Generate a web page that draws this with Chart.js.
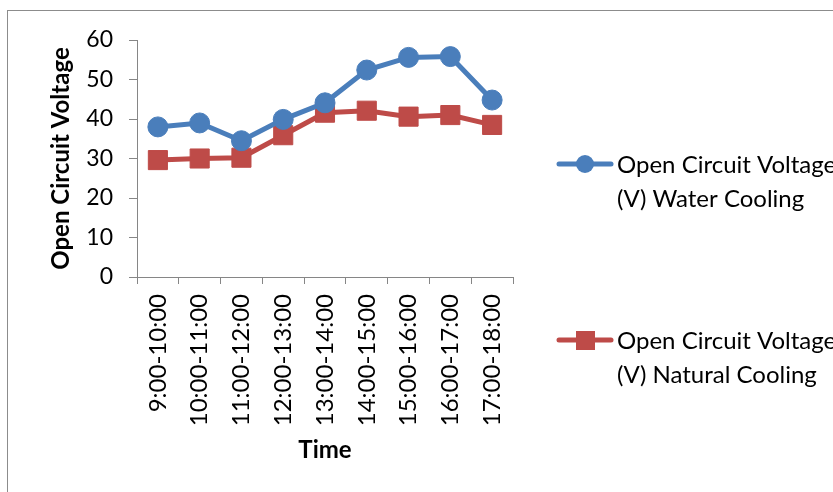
<!DOCTYPE html>
<html>
<head>
<meta charset="utf-8">
<script src="https://cdn.jsdelivr.net/npm/chart.js@4.4.0/dist/chart.umd.min.js"></script>
<style>
  html, body { margin: 0; padding: 0; background: #fff; overflow: hidden; }
  #wrap { position: relative; width: 833px; height: 492px; }
  #frame { position: absolute; left: 7px; top: 10px; width: 840px; height: 500px;
           border: 1px solid #8c8c8c; box-sizing: border-box; }
  canvas { position: absolute; left: 0; top: 0; }
</style>
</head>
<body>
<div id="wrap">
  <div id="frame"></div>
  <canvas id="c" width="833" height="492"></canvas>
</div>
<script>
// Hourly open circuit voltage readings
const timeSlots = ['9:00-10:00', '10:00-11:00', '11:00-12:00', '12:00-13:00', '13:00-14:00',
                   '14:00-15:00', '15:00-16:00', '16:00-17:00', '17:00-18:00'];
const waterCooling = [38.0, 39.0, 34.5, 39.9, 44.1, 52.4, 55.6, 55.8, 44.8];
const naturalCooling = [29.6, 30.0, 30.2, 35.9, 41.6, 42.1, 40.6, 41.0, 38.5];
const seriesNames = [
  ['Open Circuit Voltage', '(V) Water Cooling'],
  ['Open Circuit Voltage', '(V) Natural Cooling']
];
const yTicks = [0, 10, 20, 30, 40, 50, 60];

const FONT = 'Lato, "Open Sans", sans-serif';
const FS = 24;
const BLUE = '#4a7ebb';
const RED = '#be4b48';
const AXIS = '#868686';

// Legend drawn at the right, one entry per dataset, with a two-line label
const sideLegend = {
  id: 'sideLegend',
  afterDraw(chart) {
    const ctx = chart.ctx;
    const rows = [164, 340];
    ctx.save();
    chart.data.datasets.forEach((ds, i) => {
      const y = rows[i];
      ctx.strokeStyle = ds.borderColor;
      ctx.lineWidth = 5;
      ctx.lineCap = 'round';
      ctx.beginPath();
      ctx.moveTo(559, y);
      ctx.lineTo(611, y);
      ctx.stroke();
      ctx.fillStyle = ds.borderColor;
      if (ds.pointStyle === 'rect') {
        ctx.fillRect(576, y - 9, 19, 19);
      } else {
        ctx.beginPath();
        ctx.arc(585, y, 9, 0, Math.PI * 2);
        ctx.fill();
      }
      ctx.fillStyle = '#000';
      ctx.font = FS + 'px ' + FONT;
      ctx.textBaseline = 'middle';
      ctx.textAlign = 'left';
      seriesNames[i].forEach((line, k) => ctx.fillText(line, 617, y + 1 + k * 34));
    });
    ctx.restore();
  }
};

new Chart(document.getElementById('c'), {
  type: 'line',
  data: {
    labels: timeSlots,
    datasets: [
      {
        label: seriesNames[0].join(' '),
        data: waterCooling,
        borderColor: BLUE,
        backgroundColor: BLUE,
        borderWidth: 5,
        pointStyle: 'circle',
        pointRadius: 10,
        pointBorderWidth: 1,
        pointBackgroundColor: BLUE,
        tension: 0
      },
      {
        label: seriesNames[1].join(' '),
        data: naturalCooling,
        borderColor: RED,
        backgroundColor: RED,
        borderWidth: 5,
        pointStyle: 'rect',
        pointRadius: 13.5,
        pointBorderWidth: 1,
        pointBackgroundColor: RED,
        tension: 0
      }
    ]
  },
  options: {
    responsive: false,
    animation: false,
    devicePixelRatio: 1,
    layout: { padding: { left: 0, right: 320, top: 40, bottom: 0 } },
    plugins: {
      legend: { display: false },
      tooltip: { enabled: false }
    },
    scales: {
      x: {
        offset: true,
        grid: {
          display: true,
          drawOnChartArea: false,
          drawTicks: true,
          tickLength: 7,
          color: AXIS,
          lineWidth: 1,
          offset: true
        },
        border: { color: AXIS, width: 1 },
        ticks: {
          color: '#000',
          font: { family: FONT, size: FS },
          minRotation: 90,
          maxRotation: 90,
          autoSkip: false,
          padding: 10
        },
        title: {
          display: true,
          text: 'Time',
          color: '#000',
          font: { family: FONT, size: FS, weight: 'bold' },
          padding: { top: 8, bottom: 27 }
        },
        afterFit(scale) { scale.height = 215; }
      },
      y: {
        min: 0,
        max: 60,
        afterBuildTicks(scale) { scale.ticks = yTicks.map(v => ({ value: v })); },
        grid: {
          display: true,
          drawOnChartArea: false,
          drawTicks: true,
          tickLength: 8,
          color: AXIS
        },
        border: { color: AXIS, width: 1 },
        ticks: {
          color: '#000',
          font: { family: FONT, size: 23 },
          padding: 16
        },
        title: {
          display: true,
          text: 'Open Circuit Voltage',
          color: '#000',
          font: { family: FONT, size: FS, weight: 'bold' },
          padding: { top: 47, bottom: 4 }
        },
        afterFit(scale) { scale.width = 137; }
      }
    }
  },
  plugins: [sideLegend]
});
</script>
</body>
</html>
